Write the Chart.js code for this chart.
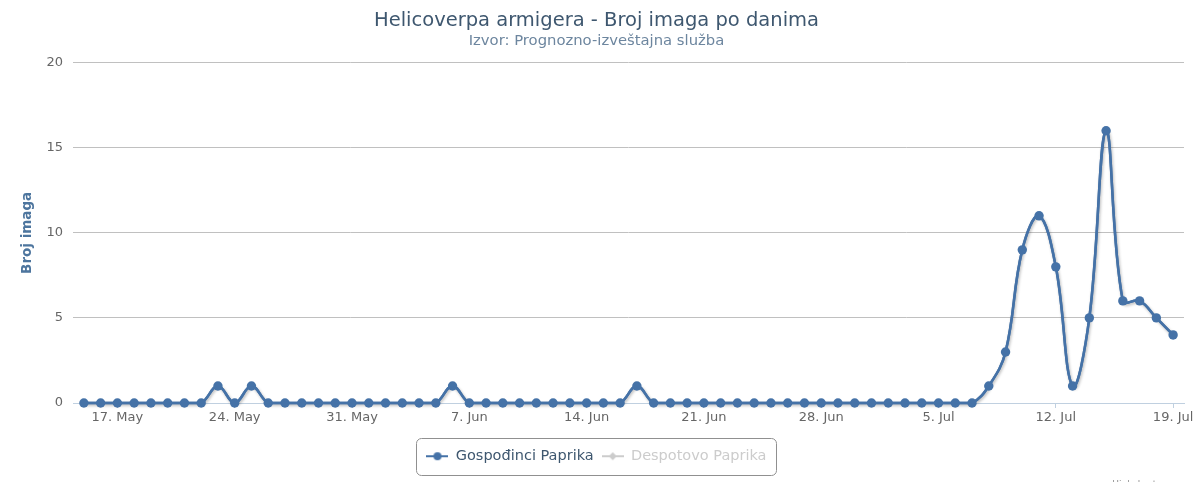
<!DOCTYPE html>
<html>
<head>
<meta charset="utf-8">
<title>Helicoverpa armigera - Broj imaga po danima</title>
<script src="https://cdn.jsdelivr.net/npm/chart.js@4.4.1/dist/chart.umd.min.js"></script>
<style>
  html, body { margin: 0; padding: 0; background: #fff; }
  .wrap { position: relative; width: 1193px; height: 482px; }
</style>
</head>
<body>
<div class="wrap"><canvas id="chart"></canvas></div>
<script>
// x = broj dana od 15. maja (0 = 15. May, 65 = 19. Jul)
const seriesNames = ["Gospođinci Paprika", "Despotovo Paprika"];

const gospodjinci = [
  0, 0, 0, 0, 0, 0, 0, 0, 1, 0, 1, 0, 0, 0, 0, 0, 0, 0, 0, 0,   // 15. May - 3. Jun
  0, 0, 1, 0, 0, 0, 0, 0, 0, 0, 0, 0, 0, 1, 0, 0, 0, 0, 0, 0,   // 4. Jun - 23. Jun
  0, 0, 0, 0, 0, 0, 0, 0, 0, 0, 0, 0, 0, 0, 1, 3, 9, 11, 8, 1,  // 24. Jun - 13. Jul
  5, 16, 6, 6, 5, 4                                             // 14. Jul - 19. Jul
];
const despotovo = []; // serija je skrivena na grafikonu

const tickDays = [2, 9, 16, 23, 30, 37, 44, 51, 58, 65];
const tickLabels = ["17. May", "24. May", "31. May", "7. Jun", "14. Jun",
                    "21. Jun", "28. Jun", "5. Jul", "12. Jul", "19. Jul"];
const yTicks = [0, 5, 10, 15, 20];

Chart.defaults.font.family = "'DejaVu Sans', sans-serif";

/* legend icons: line + marker */
function legendIcon(color, shape) {
  const c = document.createElement("canvas");
  c.width = 22;
  c.height = 10;
  const g = c.getContext("2d");
  g.strokeStyle = color;
  g.fillStyle = color;
  g.lineWidth = 2;
  g.beginPath();
  g.moveTo(0, 5);
  g.lineTo(22, 5);
  g.stroke();
  g.beginPath();
  if (shape === "circle") {
    g.arc(11, 5, 4, 0, Math.PI * 2);
  } else {
    g.moveTo(11, 1); g.lineTo(15, 5); g.lineTo(11, 9); g.lineTo(7, 5);
    g.closePath();
  }
  g.fill();
  return c;
}
const iconOn = legendIcon("#4572A7", "circle");
const iconOff = legendIcon("#CCCCCC", "diamond");

/* soft shadow under the line, like the original */
const lineShadow = {
  id: "lineShadow",
  beforeDatasetDraw(chart, args) {
    const meta = args.meta;
    if (!meta.dataset || meta.hidden) return;
    const ctx = chart.ctx;
    ctx.save();
    ctx.shadowColor = "rgba(0, 0, 0, 0.3)";
    ctx.shadowOffsetX = 1;
    ctx.shadowOffsetY = 1.5;
    ctx.shadowBlur = 3;
    meta.dataset.draw(ctx, chart.chartArea);
    ctx.restore();
  }
};

/* legend border + credits */
const extras = {
  id: "extras",
  afterDraw(chart) {
    const ctx = chart.ctx;
    const boxes = chart.legend.legendHitBoxes;
    if (boxes.length) {
      const left = Math.min(...boxes.map(b => b.left)) - 10;
      const right = Math.max(...boxes.map(b => b.left + b.width)) + 10;
      const top = boxes[0].top - 11;
      const h = boxes[0].height + 22;
      ctx.save();
      ctx.strokeStyle = "#909090";
      ctx.lineWidth = 1;
      ctx.beginPath();
      ctx.roundRect(Math.round(left) + 0.5, Math.round(top) + 0.5, Math.round(right - left), Math.round(h), 5);
      ctx.stroke();
      ctx.restore();
    }
    ctx.save();
    ctx.font = "9px 'DejaVu Sans'";
    ctx.fillStyle = "#909090";
    ctx.textAlign = "right";
    ctx.fillText("Highcharts.com", 1183, 485);
    ctx.restore();
  }
};

const ctx = document.getElementById("chart");

new Chart(ctx, {
  type: "line",
  data: {
    datasets: [{
      label: seriesNames[0],
      data: gospodjinci.map((v, i) => ({ x: i, y: v })),
      borderColor: "#4572A7",
      borderWidth: 2.5,
      tension: 0.4,
      pointRadius: 4.7,
      pointBorderWidth: 0,
      pointBackgroundColor: "#4572A7",
      clip: false
    }, {
      label: seriesNames[1],
      data: despotovo,
      borderColor: "#AA4643",
      hidden: true
    }]
  },
  options: {
    responsive: true,
    maintainAspectRatio: false,
    animation: false,
    layout: { padding: { top: 0, left: 0, right: 0, bottom: 8.5 } },
    plugins: {
      title: {
        display: true,
        text: "Helicoverpa armigera - Broj imaga po danima",
        color: "#3E576F",
        font: { size: 19.5, weight: "normal" },
        padding: { top: 9, bottom: 0 }
      },
      subtitle: {
        display: true,
        text: "Izvor: Prognozno-izveštajna služba",
        color: "#6D869F",
        font: { size: 14.8 },
        padding: { top: 0, bottom: 12.5 }
      },
      legend: {
        position: "bottom",
        onClick: () => {},
        labels: {
          usePointStyle: true,
          pointStyleWidth: 22,
          padding: 8,
          font: { size: 14.5 },
          generateLabels: chart => chart.data.datasets.map((ds, i) => ({
            text: ds.label,
            fontColor: ds.hidden ? "#CCCCCC" : "#3E576F",
            pointStyle: ds.hidden ? iconOff : iconOn,
            hidden: false,
            datasetIndex: i,
            lineWidth: 0,
            strokeStyle: "transparent",
            fillStyle: "transparent"
          }))
        }
      },
      tooltip: { enabled: false }
    },
    scales: {
      x: {
        type: "linear",
        min: -0.65,
        max: 65.65,
        afterBuildTicks: scale => { scale.ticks = tickDays.map(v => ({ value: v })); },
        afterFit: scale => {
          scale.height = 38;
          scale.paddingLeft = 0;
          scale.paddingRight = 0;
        },
        ticks: {
          autoSkip: false,
          maxRotation: 0,
          padding: 2,
          color: "#666666",
          font: { size: 13 },
          callback: v => tickLabels[tickDays.indexOf(v)]
        },
        grid: { drawOnChartArea: false, drawTicks: true, tickLength: 5, color: "#C0D0E0" },
        border: { color: "#C0D0E0", width: 1 }
      },
      y: {
        min: 0,
        max: 20,
        afterBuildTicks: scale => { scale.ticks = yTicks.map(v => ({ value: v })); },
        afterFit: scale => {
          scale.width = 73;
          scale.paddingTop = 0;
          scale.paddingBottom = 0;
        },
        ticks: { padding: 10, color: "#666666", font: { size: 13 } },
        grid: { color: "#C0C0C0", drawTicks: false },
        border: { display: false },
        title: {
          display: true,
          text: "Broj imaga",
          color: "#4D759E",
          font: { size: 13.5, weight: "bold" },
          padding: { top: 19.5, bottom: 0 }
        }
      },
      y2: {
        position: "right",
        grid: { display: false },
        border: { display: false },
        ticks: { display: false },
        afterFit: scale => { scale.width = 9; }
      }
    }
  },
  plugins: [lineShadow, extras]
});
</script>
</body>
</html>
